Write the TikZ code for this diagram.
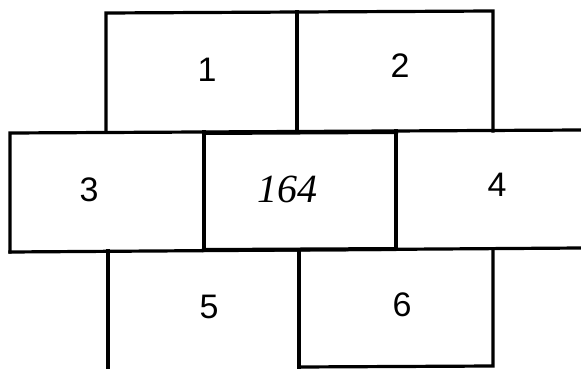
\documentclass[tikz,border=0pt]{standalone}
\usepackage{fontspec}
\setmainfont{Liberation Sans}
\newfontfamily\handfont{Liberation Serif}
\begin{document}
\begin{tikzpicture}[x=1pt,y=-1pt,
  edge/.style={line width=3.2pt,line cap=rect},
  thickedge/.style={line width=4pt,line cap=rect},
  lbl/.style={font=\fontsize{34}{34}\selectfont,inner sep=0pt}]
\useasboundingbox (0,0) rectangle (581,369);
\fill[white] (0,0) rectangle (581,369);
% top row
\draw[edge] (106,131) -- (106,13) -- (493,11) -- (493,131);
\draw[edge] (297,12) -- (297,131);
% middle row
\draw[edge] (10,252) -- (10,133) -- (581,130);
\draw[edge] (10,252) -- (581,248);
\draw[thickedge] (204,132) -- (204,250);
\draw[thickedge] (396,131) -- (396,249);
\draw[thickedge] (204,133) -- (396,132);
\draw[thickedge] (204,250) -- (396,249);
% bottom row
\draw[edge] (108,251) -- (108,369);
\draw[edge] (299,250) -- (299,369);
\draw[edge] (493,249) -- (493,366) -- (299,367);
% labels
\node[lbl] (n1) at (207,70) {1};
\node[lbl] (n2) at (400,66) {2};
\node[lbl] (n3) at (89,190) {3};
\node[lbl] (n4) at (497,185) {4};
\node[lbl] (n5) at (209,307) {5};
\node[lbl] (n6) at (402,305) {6};
\node[inner sep=0pt,font=\handfont\itshape\fontsize{40}{40}\selectfont] (nm) at (287,189) {164};
\end{tikzpicture}
\end{document}
